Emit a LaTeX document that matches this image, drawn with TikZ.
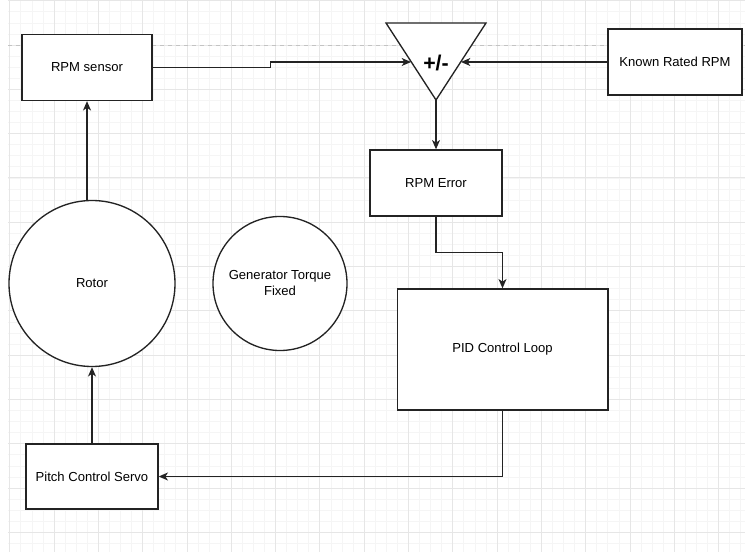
\documentclass[tikz,border=0pt]{standalone}
\usepackage{fontspec}
\setmainfont{Liberation Sans}
\usepackage{tikz}
\usetikzlibrary{arrows.meta, positioning, calc}
\usepackage{xcolor}
\definecolor{gridminor}{RGB}{245,245,245}
\definecolor{gridmajor}{RGB}{230,230,230}
\definecolor{pageline}{RGB}{195,195,195}
\definecolor{inkdark}{RGB}{35,35,35}

\begin{document}
\begin{tikzpicture}[x=0.75pt, y=-0.75pt,
    box/.style={draw=inkdark, fill=white, line width=1pt, align=center,
      font=\fontsize{9.8}{12}\selectfont, inner sep=0pt},
    disc/.style={box, circle},
    flow/.style={draw=inkdark, line width=1pt, -{Stealth[length=7pt, width=6pt, inset=2pt]}}]
  \useasboundingbox (0,0) rectangle (745,552);
  % background grid
  \foreach \i in {0,...,66} {
    \draw[gridminor, line width=0.5pt] (9.7+11.075*\i,0) -- (9.7+11.075*\i,552);
  }
  \foreach \j in {0,...,49} {
    \draw[gridminor, line width=0.5pt] (8,0.7+11.075*\j) -- (745,0.7+11.075*\j);
  }
  \foreach \i in {0,...,16} {
    \draw[gridmajor, line width=0.6pt] (9.7+44.3*\i,0) -- (9.7+44.3*\i,552);
  }
  \foreach \j in {0,...,12} {
    \draw[gridmajor, line width=0.6pt] (8,0.7+44.3*\j) -- (745,0.7+44.3*\j);
  }
  \draw[pageline, dashed, line width=0.6pt] (8,45) -- (745,45);

  % blocks
  \node[box, minimum width=97.5pt, minimum height=49.5pt] (sensor) at (87,67.5) {RPM sensor};
  \node[box, minimum width=100.5pt, minimum height=49.5pt] (known) at (675,62) {Known Rated RPM};
  \node[box, minimum width=99pt, minimum height=49.5pt] (error) at (436,183) {RPM Error};
  \node[box, minimum width=158pt, minimum height=90.75pt] (pid) at (502.5,349.5) {PID Control Loop};
  \node[box, minimum width=99pt, minimum height=48.75pt] (servo) at (92,476.5) {Pitch Control Servo};
  \node[disc, minimum size=124.5pt] (rotor) at (92,283.5) {Rotor};
  \node[disc, minimum size=100.5pt] (gen) at (280,283.5) {Generator Torque\\Fixed};

  % summing junction
  \draw[draw=inkdark, fill=white, line width=1pt] (386,23) -- (486,23) -- (436,100) -- cycle;
  \coordinate (sumL) at (411,62);
  \coordinate (sumR) at (461,62);
  \coordinate (sumB) at (436,100);
  \node[font=\fontsize{16}{19}\selectfont\bfseries] (sum) at (436,63) {+/-};

  % connectors
  \draw[flow] (sensor.east) -- ++(118,0) |- (sumL);
  \draw[flow] (known.west) -- (sumR);
  \draw[flow] (sumB) -- (error.north);
  \draw[flow] (error.south) -- ++(0,36) -| (pid.north);
  \draw[flow] (pid.south) |- (servo.east);
  \draw[flow] (servo.north) -- (rotor.south);
  \draw[flow] (sensor.south |- rotor.north) -- (sensor.south);
\end{tikzpicture}
\end{document}
